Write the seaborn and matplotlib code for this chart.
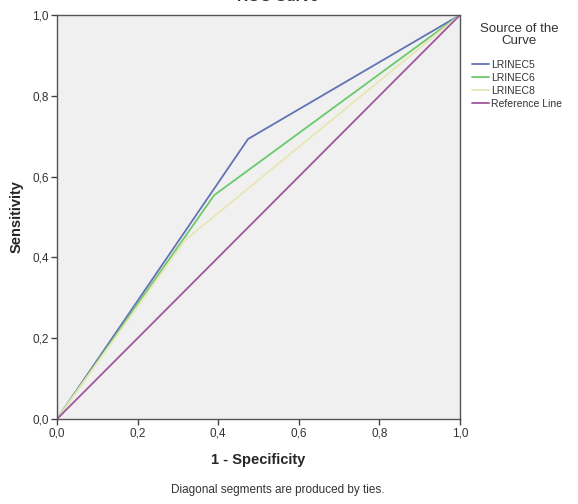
import pandas as pd
import matplotlib.pyplot as plt
import seaborn as sns

# ROC coordinates (1 - specificity, sensitivity)
lrinec5_fpr = [0.0, 0.474, 1.0]
lrinec5_tpr = [0.0, 0.693, 1.0]
lrinec6_fpr = [0.0, 0.390, 1.0]
lrinec6_tpr = [0.0, 0.554, 1.0]
lrinec8_fpr = [0.0, 0.318, 1.0]
lrinec8_tpr = [0.0, 0.443, 1.0]
ref_fpr = [0.0, 1.0]
ref_tpr = [0.0, 1.0]

sources = ["LRINEC5", "LRINEC6", "LRINEC8", "Reference Line"]
colors = ["#6272b4", "#6cc96c", "#e8e6b4", "#a0569e"]
ticks = [0.0, 0.2, 0.4, 0.6, 0.8, 1.0]

frames = []
for name, fpr, tpr in zip(sources,
                          [lrinec5_fpr, lrinec6_fpr, lrinec8_fpr, ref_fpr],
                          [lrinec5_tpr, lrinec6_tpr, lrinec8_tpr, ref_tpr]):
    frames.append(pd.DataFrame({"fpr": fpr, "tpr": tpr, "source": name}))
df = pd.concat(frames, ignore_index=True)

sns.set_style("white")
plt.rcParams["font.family"] = ["Liberation Sans", "DejaVu Sans"]

fig = plt.figure(figsize=(5.78, 5.04), dpi=100)
ax = fig.add_axes([57 / 578, 85 / 504, 403 / 578, 404 / 504])
ax.set_facecolor("#f0f0f0")

sns.lineplot(data=df, x="fpr", y="tpr", hue="source", hue_order=sources,
             palette=colors, sort=False, estimator=None, linewidth=1.3, ax=ax)

ax.set_xlim(0, 1)
ax.set_ylim(0, 1)
ax.set_xticks(ticks)
ax.set_yticks(ticks)
tick_labels = [f"{t:.1f}".replace(".", ",") for t in ticks]
ax.set_xticklabels(tick_labels, fontsize=8.5, color="#333333")
ax.set_yticklabels(tick_labels, fontsize=8.5, color="#333333")
ax.tick_params(direction="out", length=4, width=1, color="#444444", pad=2,
               bottom=True, left=True)
for sp in ax.spines.values():
    sp.set_color("#555555")
    sp.set_linewidth(1.0)

ax.set_xlabel("1 - Specificity", fontsize=10.5, fontweight="bold", labelpad=10)
ax.set_ylabel("Sensitivity", fontsize=10.5, fontweight="bold", labelpad=6)

# legend title drawn separately so the gap below it matches the reference
fig.text(519 / 578, 1 - 35 / 504, "Source of the\nCurve", ha="center",
         va="center", fontsize=9.5, color="#333333", linespacing=1.1)
leg = ax.legend(loc="upper left", bbox_to_anchor=(472 / 578, 1 - 60 / 504),
                bbox_transform=fig.transFigure, frameon=False, fontsize=7.5,
                handlelength=1.6, handletextpad=0.2, labelspacing=0.28,
                borderaxespad=0, borderpad=0)
for t in leg.get_texts():
    t.set_color("#333333")

# title is cut off at the top edge in the reference
fig.text(278 / 578, 1.005, "ROC Curve", ha="center", va="center",
         fontsize=11, fontweight="bold", color="#333333")
fig.text(278 / 578, 14 / 504, "Diagonal segments are produced by ties.",
         ha="center", va="center", fontsize=8.5, color="#333333")

fig.savefig("out.png", dpi=100)
